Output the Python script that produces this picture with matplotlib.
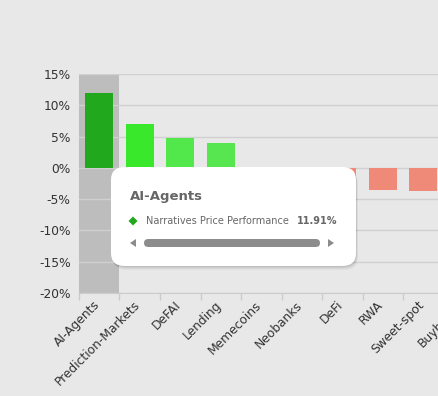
import matplotlib
matplotlib.use("Agg")
import matplotlib.pyplot as plt
from matplotlib.patches import FancyBboxPatch, Polygon
from matplotlib.transforms import ScaledTranslation
import numpy as np

categories = ["AI-Agents", "Prediction-Markets", "DeFAI", "Lending", "Memecoins",
              "Neobanks", "DeFi", "RWA", "Sweet-spot", "Buybacks"]
values = [11.91, 7.0, 4.7, 3.9, -0.3, -0.9, -1.4, -3.5, -3.7, -4.1]
bar_colors = ["#22a81c", "#3ae82b", "#52e74a", "#58e650", "#f4a595",
              "#f29a88", "#f08a78", "#f08a78", "#f08a78", "#f08a78"]
yticks = [15, 10, 5, 0, -5, -10, -15, -20]
series_name = "Narratives Price Performance"

W, H = 439, 396
fig = plt.figure(figsize=(W / 100, H / 100), dpi=100, facecolor="#e8e8e8")


def fx(px):
    return px / W


def fy(py):
    return 1 - py / H


n = len(categories)
slot = 40.5
ax = fig.add_axes([fx(79), fy(293), slot * n / W, 219 / H])
ax.set_facecolor("none")
x = np.arange(n)
ax.set_xlim(-0.5, n - 0.5)
ax.set_ylim(min(yticks), max(yticks))

# hover band
ax.axvspan(-0.5, 0.5, color="#bdbdbd", zorder=1, lw=0)
for t in yticks:
    ax.axhline(t, color="#d0d0d0", lw=1, zorder=2)

ax.bar(x, values, width=0.69, color=bar_colors, zorder=3, lw=0)

for s in ["top", "right", "left"]:
    ax.spines[s].set_visible(False)
ax.spines["bottom"].set_color("#cccccc")
ax.spines["bottom"].set_zorder(4)

ax.set_yticks(yticks)
ax.set_yticklabels([f"{t}%" for t in yticks], fontsize=8.8, color="#333333")
ax.tick_params(axis="y", length=0, pad=6)

ax.set_xticks(np.arange(-0.5, n + 0.5, 1.0))
ax.set_xticklabels([])
ax.tick_params(axis="x", which="major", length=5, color="#cccccc", width=1)
ax.set_xticks(x, minor=True)
ax.set_xticklabels(categories, minor=True, rotation=45, ha="right",
                   rotation_mode="anchor", fontsize=8.8, color="#333333")
ax.tick_params(axis="x", which="minor", length=0, pad=4)
shift = ScaledTranslation(-6 / 100, 0, fig.dpi_scale_trans)
for lab in ax.get_xticklabels(minor=True):
    lab.set_transform(lab.get_transform() + shift)

# tooltip
tx0, ty0, tx1, ty1 = 111, 167, 356, 266
r = 14
for i, a in enumerate([0.06, 0.05, 0.04, 0.03]):
    off = i + 1
    sh = FancyBboxPatch((fx(tx0 + off * 0.5), fy(ty1 + off)), fx(tx1 - tx0), (ty1 - ty0) / H,
                        boxstyle=f"round,pad=0,rounding_size={r / W}",
                        transform=fig.transFigure, facecolor="black", alpha=a,
                        lw=0, zorder=10)
    fig.patches.append(sh)
box = FancyBboxPatch((fx(tx0), fy(ty1)), fx(tx1 - tx0), (ty1 - ty0) / H,
                     boxstyle=f"round,pad=0,rounding_size={r / W}",
                     transform=fig.transFigure, facecolor="white", lw=0, zorder=11)
fig.patches.append(box)

fig.text(fx(130), fy(197), categories[0], fontsize=9.5, fontweight="bold",
         color="#666666", va="center", ha="left", zorder=12)
# diamond marker
dx, dy, dr = 133, 221, 4.5
fig.patches.append(Polygon([(fx(dx), fy(dy - dr)), (fx(dx + dr), fy(dy)),
                            (fx(dx), fy(dy + dr)), (fx(dx - dr), fy(dy))],
                           closed=True, transform=fig.transFigure,
                           facecolor=bar_colors[0], lw=0, zorder=12))
fig.text(fx(146), fy(221), series_name, fontsize=7, color="#666666",
         va="center", ha="left", zorder=12)
fig.text(fx(337), fy(221), f"{values[0]:.2f}%", fontsize=7, fontweight="bold",
         color="#666666", va="center", ha="right", zorder=12)
# scrollbar
fig.patches.append(FancyBboxPatch((fx(144), fy(247)), fx(320 - 144), 8 / H,
                                  boxstyle=f"round,pad=0,rounding_size={4 / H}",
                                  transform=fig.transFigure, facecolor="#8c8c8c",
                                  lw=0, zorder=12))
fig.patches.append(Polygon([(fx(130), fy(243)), (fx(136), fy(239)), (fx(136), fy(247))],
                           closed=True, transform=fig.transFigure,
                           facecolor="#8c8c8c", lw=0, zorder=12))
fig.patches.append(Polygon([(fx(334), fy(243)), (fx(328), fy(239)), (fx(328), fy(247))],
                           closed=True, transform=fig.transFigure,
                           facecolor="#8c8c8c", lw=0, zorder=12))

fig.savefig("out.png", dpi=100, facecolor=fig.get_facecolor())
